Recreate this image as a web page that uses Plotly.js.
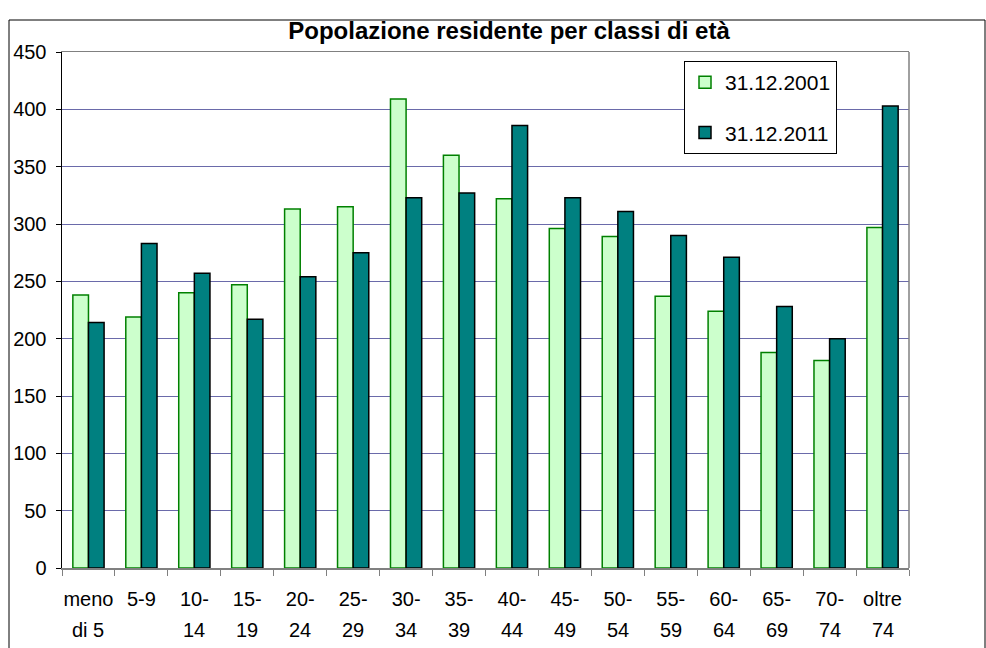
<!DOCTYPE html>
<html><head><meta charset="utf-8">
<script src="https://cdn.plot.ly/plotly-3.0.1.min.js"></script>
<style>html,body{margin:0;padding:0;background:#fff}#chart{width:986px;height:648px}</style>
</head><body><div id="chart"></div>
<script>
const categories = ["meno di 5","5-9","10-14","15-19","20-24","25-29","30-34","35-39","40-44","45-49","50-54","55-59","60-64","65-69","70-74","oltre 74"];
const tickLine1 = ["meno","5-9","10-","15-","20-","25-","30-","35-","40-","45-","50-","55-","60-","65-","70-","oltre"];
const tickLine2 = ["di 5","","14","19","24","29","34","39","44","49","54","59","64","69","74","74"];
const values2001 = [238,219,240,247,313,315,409,360,322,296,289,237,224,188,181,297];
const values2011 = [214,283,257,217,254,275,323,327,386,323,311,290,271,228,200,403];
const seriesNames = ["31.12.2001","31.12.2011"];

const FONT = "Liberation Sans, Arial, sans-serif";
const traces = [
  {type:'bar', name:seriesNames[0], x:categories, y:values2001, legendgroup:'a',
   marker:{color:'#ccffcc', line:{color:'#008000', width:1.5}}},
  {type:'bar', name:seriesNames[1], x:categories, y:values2011, legendgroup:'b',
   marker:{color:'#008080', line:{color:'#000000', width:1.5}}}
];
const annotations = categories.map((c,i)=>({
  x:c, xref:'x', y:(568-630)/516, yref:'paper', text:tickLine2[i], showarrow:false,
  font:{family:FONT, size:20, color:'#000'}, yanchor:'middle'
}));
const layout = {
  width:986, height:648,
  margin:{l:62, r:77, t:52, b:80},
  paper_bgcolor:'#fff', plot_bgcolor:'#fff',
  font:{family:FONT, size:20, color:'#000'},
  title:{text:'<b>Popolazione residente per classi di età</b>', font:{family:FONT, size:24, color:'#000'},
         x:509/986, xanchor:'center', xref:'container', y:1-31/648, yanchor:'middle', yref:'container'},
  barmode:'group', bargap:0.41, bargroupgap:0,
  xaxis:{type:'category', tickmode:'array', tickvals:categories, ticktext:tickLine1, tickangle:0,
         ticks:'outside', tickson:'boundaries', ticklen:6, tickcolor:'#808080',
         showline:true, linecolor:'#808080', linewidth:1.5, mirror:true,
         showgrid:false, tickfont:{family:FONT, size:20}, ticklabelstandoff:12, automargin:false},
  yaxis:{range:[0,450], dtick:50, tick0:0, ticks:'outside', ticklen:5, tickcolor:'#000',
         showline:true, linecolor:'#000', linewidth:1.5,
         showgrid:true, gridcolor:'#6a6aaa', gridwidth:1, zeroline:false,
         tickfont:{family:FONT, size:20}, ticklabelstandoff:5, automargin:false},
  legend:{x:(684-62)/847, xanchor:'left', y:(568-61)/516, yanchor:'top',
          bgcolor:'#fff', bordercolor:'#000', borderwidth:1,
          font:{family:FONT, size:21}, tracegroupgap:20, traceorder:'grouped'},
  shapes:[
    {type:'line', xref:'paper', yref:'paper', x0:1, x1:1, y0:0, y1:1, line:{color:'#808080', width:1.5}},
    {type:'rect', xref:'paper', yref:'paper', x0:(9-62)/847, x1:(985-62)/847, y0:(568-650)/516, y1:(568-20)/516,
     line:{color:'#000', width:1}, fillcolor:'rgba(0,0,0,0)'}
  ],
  annotations:annotations
};
Plotly.newPlot('chart', traces, layout, {displayModeBar:false, staticPlot:true});
</script></body></html>
